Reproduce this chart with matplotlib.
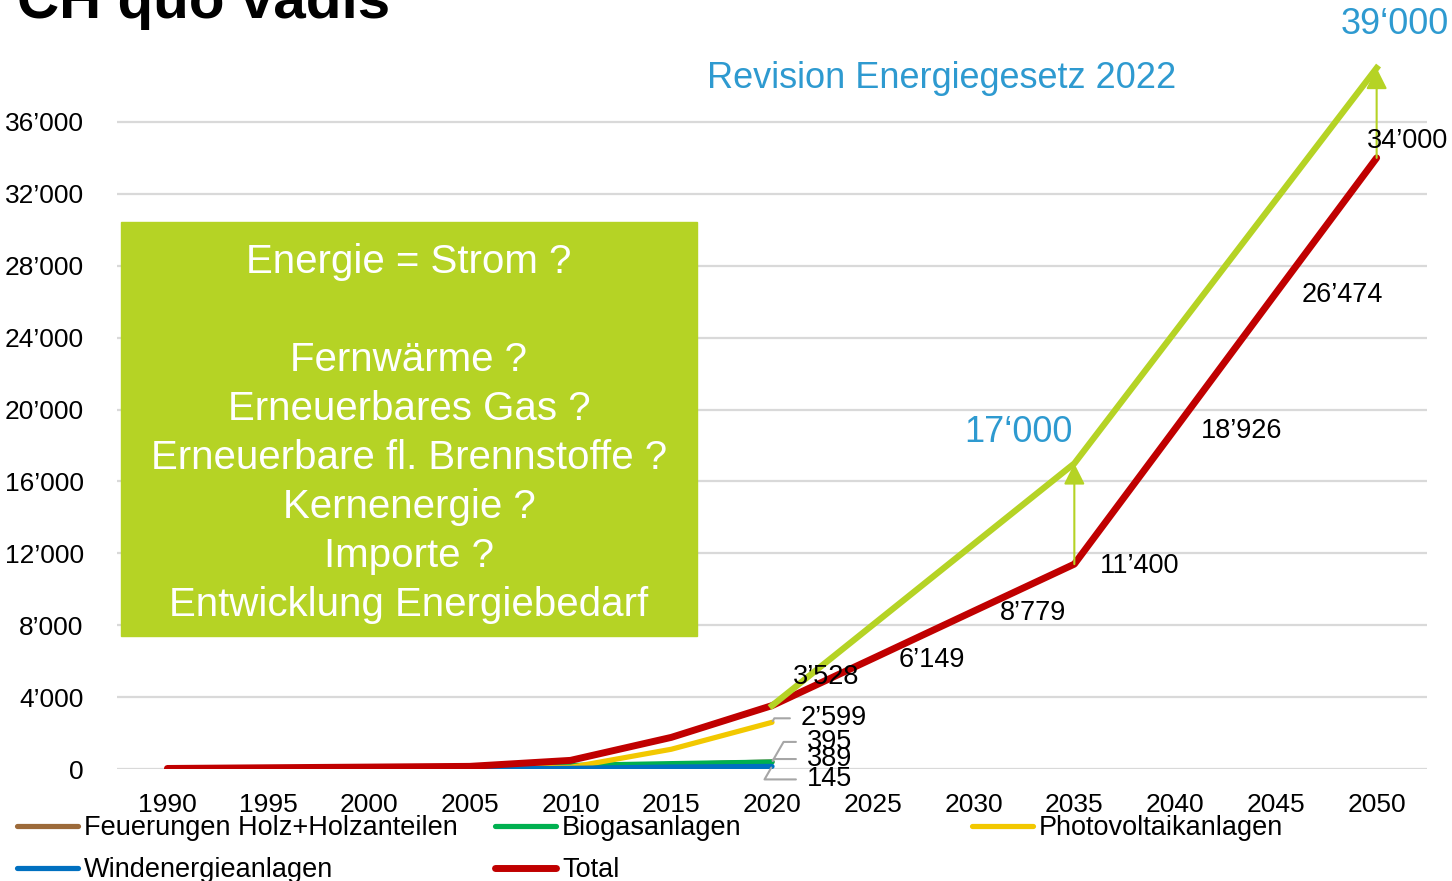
import matplotlib.pyplot as plt
from matplotlib.patches import Rectangle

plt.rcParams['font.family'] = ['Liberation Sans', 'DejaVu Sans']

# Stromproduktion aus erneuerbaren Energien (GWh)
years = [1990, 1995, 2000, 2005, 2010, 2015, 2020, 2025, 2030, 2035, 2040, 2045, 2050]
hist_years = [1990, 1995, 2000, 2005, 2010, 2015, 2020]
holz = [20, 40, 60, 80, 150, 250, 395]
biogas = [10, 20, 30, 40, 200, 300, 389]
pv = [1, 10, 15, 20, 94, 1100, 2599]
wind = [0, 0, 3, 8, 37, 110, 145]
total = [31, 70, 108, 148, 481, 1760, 3528, 6149, 8779, 11400, 18926, 26474, 34000]
rev_years = [2020, 2035, 2050]
rev_values = [3528, 17000, 39000]
yticks = [0, 4000, 8000, 12000, 16000, 20000, 24000, 28000, 32000, 36000]
box_lines = ['Energie = Strom ?', '', 'Fernwärme ?', 'Erneuerbares Gas ?',
             'Erneuerbare fl. Brennstoffe ?', 'Kernenergie ?', 'Importe ?',
             'Entwicklung Energiebedarf']

c_holz = '#9C6A3A'
c_bio = '#00B050'
c_pv = '#F2C800'
c_wind = '#0070C0'
c_total = '#C00000'
c_lime = '#B5D325'
c_blue = '#2E9AD0'


def fmt(v):
    return f'{v:,}'.replace(',', '\u2019')


fig = plt.figure(figsize=(14.52, 8.81), dpi=100)
ax = fig.add_axes([0.0806, 0.1271, 0.9022, 0.8161])

l_holz, = ax.plot(hist_years, holz, color=c_holz, lw=3.75, solid_capstyle='round', zorder=3)
l_bio, = ax.plot(hist_years, biogas, color=c_bio, lw=3.75, solid_capstyle='round', zorder=3)
l_pv, = ax.plot(hist_years, pv, color=c_pv, lw=3.75, solid_capstyle='round', zorder=3)
l_wind, = ax.plot(hist_years, wind, color=c_wind, lw=3.75, solid_capstyle='round', zorder=3)
l_total, = ax.plot(years, total, color=c_total, lw=5, solid_capstyle='round', zorder=4)
ax.plot(rev_years, rev_values, color=c_lime, lw=4.5, zorder=5)

# Pfeile Revision
for yr, lo, hi in [(2035, 11400, 17000), (2050, 34000, 39000)]:
    ax.annotate('', xy=(yr, hi), xytext=(yr, lo),
                arrowprops=dict(arrowstyle='-|>', color=c_lime, lw=1.5,
                                mutation_scale=32, shrinkA=0, shrinkB=0), zorder=6)

ax.set_xlim(1987.5, 2052.5)
ax.set_ylim(0, 40000)
ax.set_xticks(years)
ax.set_xticklabels([str(y) for y in years], fontsize=19)
ax.set_yticks(yticks)
ax.set_yticklabels([fmt(v) for v in yticks], fontsize=19)
ax.tick_params(axis='both', length=0)
ax.tick_params(axis='y', pad=24)
ax.tick_params(axis='x', pad=17)
ax.grid(axis='y', color='#D9D9D9', lw=1.6, zorder=0)
ax.set_axisbelow(True)
for s in ax.spines.values():
    s.set_visible(False)

# Beschriftung Total
label_offsets = {2020: (21, 29), 2050: (-10, 17)}
for yr, v in zip(years[6:], total[6:]):
    dx, dy = label_offsets.get(yr, (26, -2))
    ax.annotate(fmt(v), xy=(yr, v), xytext=(dx, dy), textcoords='offset pixels',
                ha='left', va='center', fontsize=19.5, zorder=7)

# Beschriftung 2020 mit Fuehrungslinien
for v, (dx, dy) in [(pv[-1], (29, 4)), (holz[-1], (35, 20)),
                    (biogas[-1], (35, 3)), (wind[-1], (35, -13))]:
    ax.annotate(fmt(v), xy=(2020, v), xytext=(dx, dy), textcoords='offset pixels',
                ha='left', va='center', fontsize=19.5,
                arrowprops=dict(arrowstyle='-', color='#A6A6A6', lw=1.5,
                                relpos=(0, 0.5), shrinkA=6, shrinkB=1,
                                connectionstyle='angle,angleA=0,angleB=60,rad=0'))

ax.text(2028.4, 38400, 'Revision Energiegesetz 2022', color=c_blue, fontsize=26,
        ha='center', va='center')
ax.text(2034.9, 18750, '17\u2018000', color=c_blue, fontsize=26, ha='right', va='center')
ax.text(2053.6, 41400, '39\u2018000', color=c_blue, fontsize=26, ha='right', va='center')

# Titel (abgeschnitten)
fig.text(0.0117, 1 - 18 / 881, 'CH quo vadis', fontsize=42, fontweight='bold',
         ha='left', va='baseline')

# gruene Box
fig.patches.append(Rectangle((121 / 1452, 1 - 636 / 881), 576 / 1452, 414 / 881,
                             transform=fig.transFigure, color=c_lime, zorder=1))
for i, line in enumerate(box_lines):
    ypix = 262 if i == 0 else 360 + (i - 2) * 49
    fig.text(409 / 1452, 1 - ypix / 881, line, color='white', fontsize=29,
             ha='center', va='center', zorder=2)

# Legende
leg_kw = dict(loc='upper left', frameon=False, fontsize=19.5, handlelength=2.25,
              handletextpad=0.22, labelspacing=0.6, borderpad=0, borderaxespad=0)
fig.legend([l_holz, l_wind], ['Feuerungen Holz+Holzanteilen', 'Windenergieanlagen'],
           bbox_to_anchor=(17 / 1452, 1 - 815 / 881), **leg_kw)
fig.legend([l_bio, l_total], ['Biogasanlagen', 'Total'],
           bbox_to_anchor=(495 / 1452, 1 - 815 / 881), **leg_kw)
fig.legend([l_pv], ['Photovoltaikanlagen'],
           bbox_to_anchor=(972 / 1452, 1 - 815 / 881), **leg_kw)

fig.savefig('out.png', dpi=100)
